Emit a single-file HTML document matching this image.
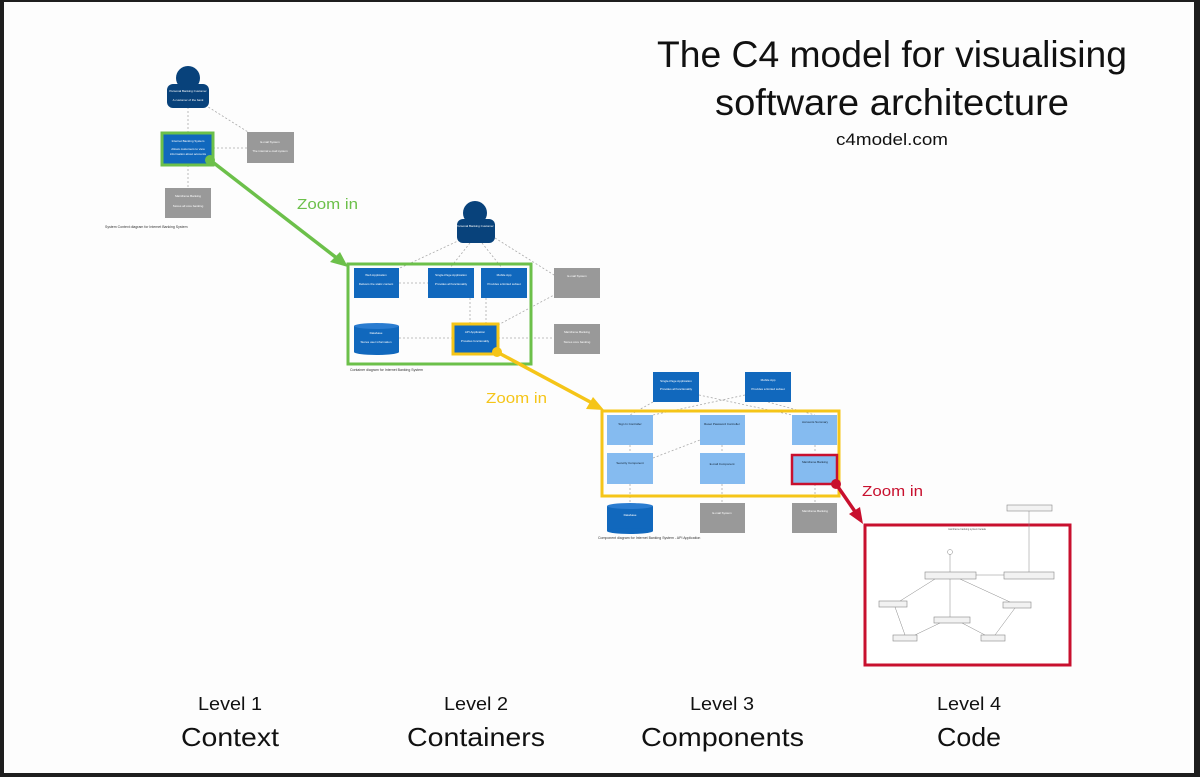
<!DOCTYPE html>
<html><head><meta charset="utf-8"><style>
html,body{margin:0;padding:0;background:#1e1e1e;}
svg{display:block;}
text{font-family:"Liberation Sans",sans-serif;}
</style></head><body>
<svg width="1200" height="777" viewBox="0 0 1200 777" xmlns="http://www.w3.org/2000/svg">
<rect x="0" y="0" width="1200" height="777" fill="#1e1e1e"/>
<rect x="4" y="2" width="1190" height="771" fill="#fdfdfd"/>

<!-- Title -->
<text x="657" y="67" font-size="37" textLength="470" lengthAdjust="spacingAndGlyphs" fill="#111">The C4 model for visualising</text>
<text x="715" y="115" font-size="37" textLength="354" lengthAdjust="spacingAndGlyphs" fill="#111">software architecture</text>
<text x="836" y="145" font-size="17" textLength="112" lengthAdjust="spacingAndGlyphs" fill="#111">c4model.com</text>

<!-- Level 1 -->
<g stroke="#aaa" stroke-width="0.8" stroke-dasharray="2,2" fill="none">
<line x1="188" y1="107" x2="188" y2="133"/>
<line x1="205" y1="105" x2="248" y2="132"/>
<line x1="213" y1="148" x2="247" y2="148"/>
<line x1="188" y1="165" x2="188" y2="188"/>
</g>
<circle cx="188" cy="78" r="12" fill="#08427b"/>
<rect x="167" y="84" width="42" height="24" rx="6" fill="#08427b"/>
<rect x="162" y="133" width="51" height="32" fill="#1168bd" stroke="#6cc04a" stroke-width="3"/>
<rect x="247" y="132" width="47" height="31" fill="#999"/>
<rect x="165" y="188" width="46" height="30" fill="#999"/>
<g fill="#fff" font-size="3">
<text x="188" y="92" text-anchor="middle">Personal Banking Customer</text>
<text x="188" y="101" text-anchor="middle">A customer of the bank</text>
<text x="188" y="142" text-anchor="middle">Internet Banking System</text>
<text x="188" y="150" text-anchor="middle">Allows customers to view</text>
<text x="188" y="155" text-anchor="middle">information about accounts</text>
<text x="270" y="143" text-anchor="middle">E-mail System</text>
<text x="270" y="152" text-anchor="middle">The internal e-mail system</text>
<text x="188" y="197" text-anchor="middle">Mainframe Banking</text>
<text x="188" y="207" text-anchor="middle">Stores all core banking</text>
</g>
<text x="105" y="228" font-size="3.5" fill="#333">System Context diagram for Internet Banking System</text>

<!-- Green arrow -->
<line x1="210" y1="160" x2="338" y2="259" stroke="#6cc04a" stroke-width="3.5"/>
<polygon points="348,267 330,262 340,252" fill="#6cc04a"/>
<circle cx="210" cy="160" r="5" fill="#6cc04a"/>
<text x="297" y="209" font-size="15" textLength="61" lengthAdjust="spacingAndGlyphs" fill="#6cc04a">Zoom in</text>

<!-- Level 2 -->
<g stroke="#aaa" stroke-width="0.8" stroke-dasharray="2,2" fill="none">
<line x1="460" y1="240" x2="400" y2="268"/>
<line x1="470" y1="243" x2="450" y2="268"/>
<line x1="482" y1="243" x2="502" y2="268"/>
<line x1="495" y1="238" x2="554" y2="275"/>
<line x1="399" y1="283" x2="428" y2="283"/>
<line x1="470" y1="298" x2="470" y2="324"/>
<line x1="486" y1="298" x2="486" y2="324"/>
<line x1="498" y1="325" x2="554" y2="295"/>
<line x1="399" y1="338" x2="453" y2="338"/>
<line x1="498" y1="338" x2="554" y2="338"/>
</g>
<circle cx="475" cy="213" r="12" fill="#08427b"/>
<rect x="457" y="219" width="38" height="24" rx="6" fill="#08427b"/>
<rect x="348" y="264" width="183" height="100" fill="none" stroke="#6cc04a" stroke-width="3"/>
<rect x="354" y="268" width="45" height="30" fill="#1168bd"/>
<rect x="428" y="268" width="46" height="30" fill="#1168bd"/>
<rect x="481" y="268" width="46" height="30" fill="#1168bd"/>
<rect x="354" y="326" width="45" height="26" fill="#1168bd"/>
<ellipse cx="376.5" cy="326" rx="22.5" ry="3" fill="#2a7cd0"/>
<ellipse cx="376.5" cy="352" rx="22.5" ry="3" fill="#1168bd"/>
<rect x="453" y="324" width="45" height="30" fill="#1168bd" stroke="#f5c518" stroke-width="3"/>
<rect x="554" y="268" width="46" height="30" fill="#999"/>
<rect x="554" y="324" width="46" height="30" fill="#999"/>
<g fill="#fff" font-size="3" text-anchor="middle">
<text x="475" y="227">Personal Banking Customer</text>
<text x="376" y="276">Web Application</text>
<text x="376" y="285">Delivers the static content</text>
<text x="451" y="276">Single-Page Application</text>
<text x="451" y="285">Provides all functionality</text>
<text x="504" y="276">Mobile App</text>
<text x="504" y="285">Provides a limited subset</text>
<text x="376" y="334">Database</text>
<text x="376" y="343">Stores user information</text>
<text x="475" y="333">API Application</text>
<text x="475" y="342">Provides functionality</text>
<text x="577" y="277">E-mail System</text>
<text x="577" y="333">Mainframe Banking</text>
<text x="577" y="343">Stores core banking</text>
</g>
<text x="350" y="371" font-size="3.5" fill="#333">Container diagram for Internet Banking System</text>

<!-- Yellow arrow -->
<line x1="497" y1="352" x2="594" y2="404" stroke="#f5c518" stroke-width="3.5"/>
<polygon points="604,410 586,409 593,397" fill="#f5c518"/>
<circle cx="497" cy="352" r="5" fill="#f5c518"/>
<text x="486" y="403" font-size="15" textLength="61" lengthAdjust="spacingAndGlyphs" fill="#f5c518">Zoom in</text>

<!-- Level 3 -->
<g stroke="#aaa" stroke-width="0.8" stroke-dasharray="2,2" fill="none">
<line x1="653" y1="402" x2="630" y2="415"/>
<line x1="699" y1="395" x2="792" y2="415"/>
<line x1="745" y1="395" x2="653" y2="415"/>
<line x1="768" y1="402" x2="815" y2="415"/>
<line x1="630" y1="445" x2="630" y2="453"/>
<line x1="722" y1="445" x2="722" y2="453"/>
<line x1="815" y1="445" x2="815" y2="453"/>
<line x1="653" y1="458" x2="700" y2="440"/>
<line x1="630" y1="484" x2="630" y2="503"/>
<line x1="722" y1="484" x2="722" y2="503"/>
<line x1="815" y1="484" x2="815" y2="503"/>
</g>
<rect x="653" y="372" width="46" height="30" fill="#1168bd"/>
<rect x="745" y="372" width="46" height="30" fill="#1168bd"/>
<rect x="602" y="411" width="237" height="85" fill="none" stroke="#f5c518" stroke-width="3"/>
<g fill="#85bbf0">
<rect x="607" y="415" width="46" height="30"/>
<rect x="700" y="415" width="45" height="30"/>
<rect x="792" y="415" width="45" height="30"/>
<rect x="607" y="453" width="46" height="31"/>
<rect x="700" y="453" width="45" height="31"/>
</g>
<rect x="792" y="455" width="45" height="29" fill="#85bbf0" stroke="#c8102e" stroke-width="2.5"/>
<rect x="607" y="506" width="46" height="25" fill="#1168bd"/>
<ellipse cx="630" cy="506" rx="23" ry="3" fill="#2a7cd0"/>
<ellipse cx="630" cy="531" rx="23" ry="3" fill="#1168bd"/>
<rect x="700" y="503" width="45" height="30" fill="#999"/>
<rect x="792" y="503" width="45" height="30" fill="#999"/>
<g font-size="3" text-anchor="middle" fill="#fff">
<text x="676" y="382">Single-Page Application</text>
<text x="676" y="390">Provides all functionality</text>
<text x="768" y="381">Mobile App</text>
<text x="768" y="390">Provides a limited subset</text>
<text x="630" y="516">Database</text>
<text x="722" y="514">E-mail System</text>
<text x="815" y="512">Mainframe Banking</text>
</g>
<g font-size="3" text-anchor="middle" fill="#123">
<text x="630" y="425">Sign In Controller</text>
<text x="722" y="425">Reset Password Controller</text>
<text x="815" y="423">Accounts Summary</text>
<text x="630" y="464">Security Component</text>
<text x="722" y="465">E-mail Component</text>
<text x="815" y="463">Mainframe Banking</text>
</g>
<text x="598" y="539" font-size="3.5" fill="#333">Component diagram for Internet Banking System - API Application</text>

<!-- Red arrow -->
<line x1="836" y1="484" x2="856" y2="513" stroke="#c8102e" stroke-width="3.5"/>
<polygon points="863,524 849,514 860,507" fill="#c8102e"/>
<circle cx="836" cy="484" r="5" fill="#c8102e"/>
<text x="862" y="496" font-size="15" textLength="61" lengthAdjust="spacingAndGlyphs" fill="#c8102e">Zoom in</text>

<!-- Level 4 -->
<rect x="865" y="525" width="205" height="140" fill="#fff" stroke="#c8102e" stroke-width="3"/>
<g fill="#f2f2f2" stroke="#888" stroke-width="0.6">
<rect x="1007" y="505" width="45" height="6"/>
<rect x="925" y="572" width="51" height="7"/>
<rect x="1004" y="572" width="50" height="7"/>
<rect x="879" y="601" width="28" height="6"/>
<rect x="1003" y="602" width="28" height="6"/>
<rect x="934" y="617" width="36" height="6"/>
<rect x="893" y="635" width="24" height="6"/>
<rect x="981" y="635" width="24" height="6"/>
</g>
<g stroke="#888" stroke-width="0.5" fill="none">
<line x1="950" y1="554" x2="950" y2="572"/>
<circle cx="950" cy="552" r="2.5"/>
<line x1="976" y1="575" x2="1004" y2="575"/>
<line x1="1029" y1="511" x2="1029" y2="572"/>
<line x1="935" y1="579" x2="900" y2="601"/>
<line x1="960" y1="579" x2="1010" y2="602"/>
<line x1="950" y1="579" x2="950" y2="617"/>
<line x1="895" y1="607" x2="905" y2="635"/>
<line x1="1015" y1="608" x2="995" y2="635"/>
<line x1="940" y1="623" x2="915" y2="635"/>
<line x1="962" y1="623" x2="985" y2="635"/>
</g>
<text x="967" y="530" font-size="2.5" fill="#555" text-anchor="middle">mainframe banking system facade</text>

<!-- Bottom labels -->
<g fill="#111">
<text x="198" y="710" font-size="18" textLength="64" lengthAdjust="spacingAndGlyphs">Level 1</text>
<text x="181" y="746" font-size="26" textLength="98" lengthAdjust="spacingAndGlyphs">Context</text>
<text x="444" y="710" font-size="18" textLength="64" lengthAdjust="spacingAndGlyphs">Level 2</text>
<text x="407" y="746" font-size="26" textLength="138" lengthAdjust="spacingAndGlyphs">Containers</text>
<text x="690" y="710" font-size="18" textLength="64" lengthAdjust="spacingAndGlyphs">Level 3</text>
<text x="641" y="746" font-size="26" textLength="163" lengthAdjust="spacingAndGlyphs">Components</text>
<text x="937" y="710" font-size="18" textLength="64" lengthAdjust="spacingAndGlyphs">Level 4</text>
<text x="937" y="746" font-size="26" textLength="64" lengthAdjust="spacingAndGlyphs">Code</text>
</g>
</svg>
</body></html>
